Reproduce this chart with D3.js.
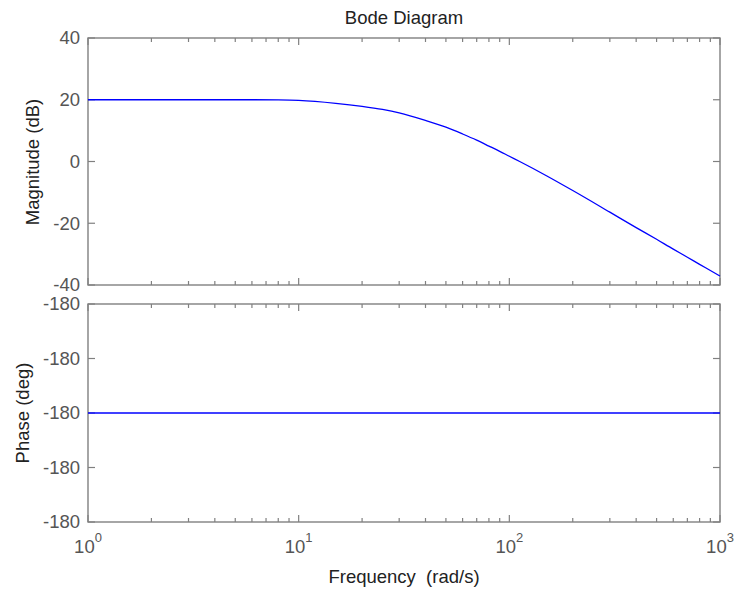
<!DOCTYPE html>
<html>
<head>
  <meta charset='utf-8'>
  <title>Bode Diagram</title>
  <style>
    body { margin: 0; background: #fff; }
    svg text { font-family: 'Liberation Sans', Arial, sans-serif; }
  </style>
</head>
<body>
<div id="chart"></div>
<script src="https://cdn.jsdelivr.net/npm/d3@7"></script>
<script>

// frequency samples (rad/s)
var freq = [1, 2, 4, 6, 8, 10, 15, 20, 25, 30, 40, 50, 60, 70, 80, 90,
            100, 112, 150, 200, 300, 400, 500, 600, 700, 800, 900, 1000];
var magDb = [20.0, 20.0, 20.0, 20.0, 19.95, 19.8, 18.85, 17.85, 16.85, 15.75, 13.3, 11.1,
             8.9, 6.9, 5.0, 3.3, 1.7, 0.0, -4.6, -9.4, -16.4, -21.4, -25.2,
             -28.4, -31.0, -33.3, -35.3, -37.1];
var phaseDeg = [-180, -180, -180, -180, -180, -180, -180, -180, -180, -180, -180, -180,
                -180, -180, -180, -180, -180, -180, -180, -180, -180, -180, -180,
                -180, -180, -180, -180, -180];

var magTicks = [40, 20, 0, -20, -40];
var magLabels = ['40', '20', '0', '-20', '-40'];
var phaseTicks = [-179.9998, -179.9999, -180, -180.0001, -180.0002];
var phaseLabels = ['-180', '-180', '-180', '-180', '-180'];
var decades = [1, 10, 100, 1000];
var decadeExp = ['0', '1', '2', '3'];

var width = 735, height = 594;
var left = 88, right = 720;
var frameColor = '#808080', tickTextColor = '#555', labelColor = '#222';

var svg = d3.select('#chart').append('svg')
  .attr('width', width)
  .attr('height', height);

var x = d3.scaleLog().domain([1, 1000]).range([left, right]);
var minor = x.ticks().filter(function(d) { return decades.indexOf(d) < 0; });

var yMag = d3.scaleLinear().domain([-40, 40]).range([285, 38]);
var yPh = d3.scaleLinear().domain([-180.0002, -179.9998]).range([522, 304]);

function panel(y, ticks, labels, values, showX) {
  var top = y.range()[1], bottom = y.range()[0];
  var g = svg.append('g');

  g.append('rect')
    .attr('x', left).attr('y', top)
    .attr('width', right - left).attr('height', bottom - top)
    .attr('fill', 'none')
    .attr('stroke', frameColor)
    .attr('stroke-width', 1.4);

  // x ticks, bottom and top, pointing inward
  [[bottom, -1], [top, 1]].forEach(function(s) {
    g.selectAll(null).data(decades).enter().append('line')
      .attr('x1', function(d) { return x(d); }).attr('x2', function(d) { return x(d); })
      .attr('y1', s[0]).attr('y2', s[0] + s[1] * 7)
      .attr('stroke', frameColor).attr('stroke-width', 1.2);
    g.selectAll(null).data(minor).enter().append('line')
      .attr('x1', function(d) { return x(d); }).attr('x2', function(d) { return x(d); })
      .attr('y1', s[0]).attr('y2', s[0] + s[1] * 4)
      .attr('stroke', frameColor).attr('stroke-width', 1.2);
  });

  // y ticks, left and right
  [[left, 1], [right, -1]].forEach(function(s) {
    g.selectAll(null).data(ticks).enter().append('line')
      .attr('x1', s[0]).attr('x2', s[0] + s[1] * 7)
      .attr('y1', function(d) { return y(d); }).attr('y2', function(d) { return y(d); })
      .attr('stroke', frameColor).attr('stroke-width', 1.2);
  });

  g.selectAll(null).data(ticks).enter().append('text')
    .attr('x', left - 8)
    .attr('y', function(d) { return y(d); })
    .attr('dy', '0.35em')
    .attr('text-anchor', 'end')
    .attr('font-size', '18.5px')
    .attr('fill', tickTextColor)
    .text(function(d, i) { return labels[i]; });

  if (showX) {
    var t = g.selectAll(null).data(decades).enter().append('text')
      .attr('x', function(d) { return x(d); })
      .attr('y', bottom + 31)
      .attr('text-anchor', 'middle')
      .attr('font-size', '18.5px')
      .attr('fill', tickTextColor);
    t.append('tspan').text('10');
    t.append('tspan')
      .attr('dy', -11.5)
      .attr('font-size', '13px')
      .text(function(d, i) { return decadeExp[i]; });
  }

  var line = d3.line()
    .x(function(d, i) { return x(freq[i]); })
    .y(function(d) { return y(d); })
    .curve(d3.curveMonotoneX);

  g.append('path')
    .datum(values)
    .attr('d', line)
    .attr('fill', 'none')
    .attr('stroke', '#0000ff')
    .attr('stroke-width', 1.3);
}

panel(yMag, magTicks, magLabels, magDb, false);
panel(yPh, phaseTicks, phaseLabels, phaseDeg, true);

svg.append('text')
  .attr('x', (left + right) / 2).attr('y', 24)
  .attr('text-anchor', 'middle')
  .attr('font-size', '18.5px')
  .attr('fill', labelColor)
  .text('Bode Diagram');

svg.append('text')
  .attr('x', (left + right) / 2).attr('y', 583)
  .attr('text-anchor', 'middle')
  .attr('font-size', '18.5px')
  .attr('fill', labelColor)
  .attr('xml:space', 'preserve')
  .text('Frequency  (rad/s)');

svg.append('text')
  .attr('transform', 'translate(38.5,162) rotate(-90)')
  .attr('text-anchor', 'middle')
  .attr('font-size', '18.5px')
  .attr('fill', labelColor)
  .text('Magnitude (dB)');

svg.append('text')
  .attr('transform', 'translate(28.5,413) rotate(-90)')
  .attr('text-anchor', 'middle')
  .attr('font-size', '18.5px')
  .attr('fill', labelColor)
  .text('Phase (deg)');

</script>
</body>
</html>
